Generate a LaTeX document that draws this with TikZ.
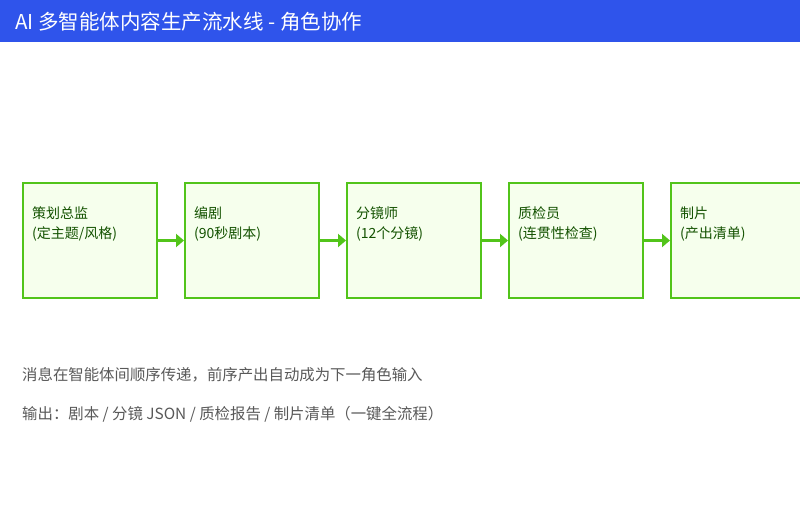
\documentclass[tikz,border=0pt]{standalone}
\usepackage{fontspec}
\setmainfont{Noto Sans CJK SC}
\usetikzlibrary{arrows.meta,positioning}
\definecolor{hdrblue}{HTML}{2F54EB}
\definecolor{stepgreen}{HTML}{52C41A}
\definecolor{stepfill}{HTML}{F6FFED}
\definecolor{steptext}{HTML}{135200}
\definecolor{notegray}{HTML}{595959}
\begin{document}
\begin{tikzpicture}[x=1pt,y=-1pt,
  stepbox/.style={draw=stepgreen, fill=stepfill, line width=2pt, minimum width=134pt, minimum height=115pt, inner sep=0},
  steplabel/.style={anchor=north west, align=left, font=\fontsize{14}{20}\selectfont, text=steptext, inner sep=0},
  flow/.style={draw=stepgreen, line width=3pt, -{Triangle[length=8pt,width=13pt]}},
  note/.style={anchor=west, font=\fontsize{15.4}{17}\selectfont, text=notegray, inner sep=0},
  node distance=26pt]
	\useasboundingbox (0,0) rectangle (800,509);
	\clip (0,0) rectangle (800,509);
	\fill[white] (0,0) rectangle (800,509);
	% header
	\fill[hdrblue] (0,0) rectangle (800,42);
	\node (title) at (15,21.5) [anchor=west, inner sep=0, text=white, font=\fontsize{20.5}{24}\selectfont] {AI 多智能体内容生产流水线 - 角色协作};
	% pipeline
	\node (b1) at (90,240.5) [stepbox] {};
	\node (b2) [stepbox, right=of b1] {};
	\node (b3) [stepbox, right=of b2] {};
	\node (b4) [stepbox, right=of b3] {};
	\node (b5) [stepbox, right=of b4] {};
	\node (t1) at ([shift={(10,24.5)}]b1.north west) [steplabel] {策划总监\\(定主题/风格)};
	\node (t2) at ([shift={(10,24.5)}]b2.north west) [steplabel] {编剧\\(90秒剧本)};
	\node (t3) at ([shift={(10,24.5)}]b3.north west) [steplabel] {分镜师\\(12个分镜)};
	\node (t4) at ([shift={(10,24.5)}]b4.north west) [steplabel] {质检员\\(连贯性检查)};
	\node (t5) at ([shift={(10,24.5)}]b5.north west) [steplabel] {制片\\(产出清单)};
	\draw[flow] (b1) -- (b2);
	\draw[flow] (b2) -- (b3);
	\draw[flow] (b3) -- (b4);
	\draw[flow] (b4) -- (b5);
	% notes
	\node (n1) at (22,375) [note] {消息在智能体间顺序传递，前序产出自动成为下一角色输入};
	\node (n2) at (22,414) [note] {输出：剧本 / 分镜 JSON / 质检报告 / 制片清单（一键全流程）};
\end{tikzpicture}
\end{document}
